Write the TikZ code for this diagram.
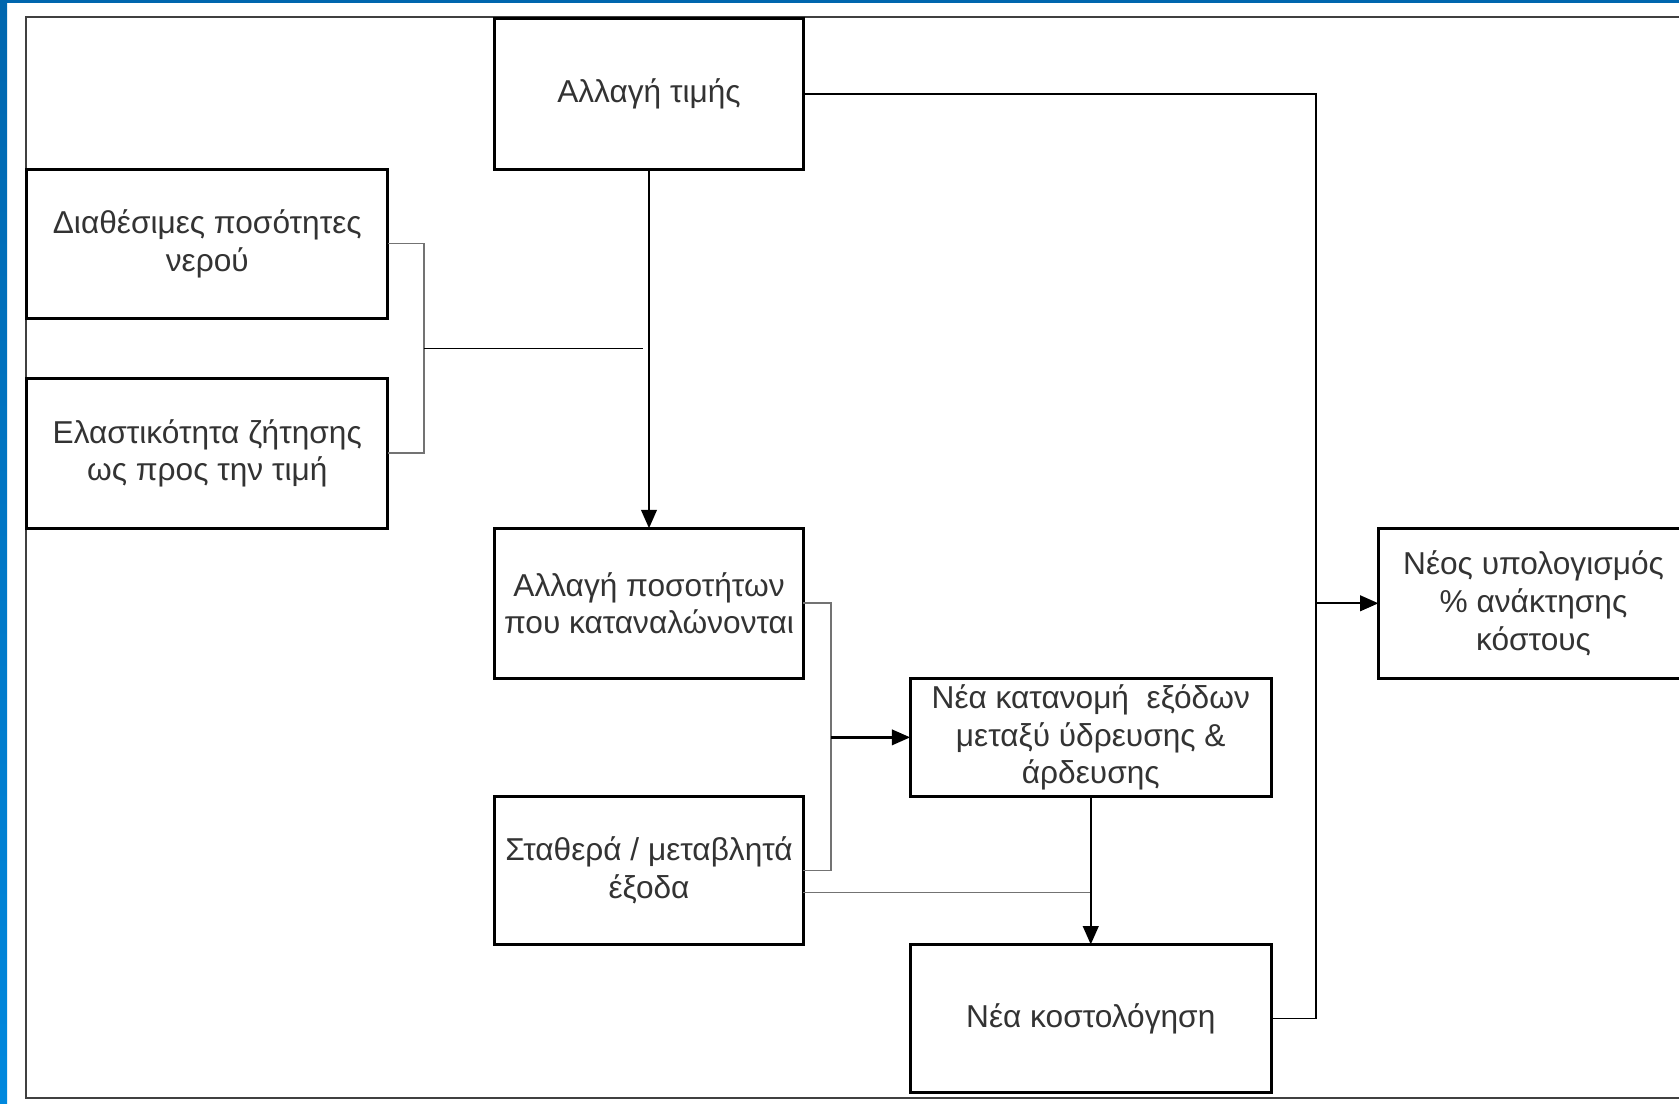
\documentclass[tikz,border=0pt]{standalone}
\usepackage{fontspec}
\setmainfont{Liberation Sans}
\usetikzlibrary{positioning,calc,arrows.meta}

\definecolor{edgeblue}{HTML}{0066AE}
\definecolor{edgeblue2}{HTML}{0088DE}

\tikzset{
   box/.style={draw, line width=0.85pt, align=center, inner sep=0pt, outer sep=0pt,
      font=\fontsize{9}{10.7}\selectfont, text=black!80},
   link/.style={line width=0.45pt},
   bracket/.style={line width=0.45pt, draw=black!55},
   arr/.style={line width=0.65pt, -{Triangle[length=5.2pt,width=4.4pt]}}
}

\begin{document}
\begin{tikzpicture}[x=0.01cm, y=-0.01cm]
   \useasboundingbox (0,0) rectangle (1679,1104);
   \clip (0,0) rectangle (1679,1104);

   % frame
   \fill[edgeblue] (0,0) rectangle (1679,3);
   \shade[top color=edgeblue, bottom color=edgeblue2] (0,0) rectangle (7,1104);
   \draw[line width=0.5pt, draw=black!75] (26,17) rectangle (1700,1098);

   % boxes
   \node[box, minimum width=3.08cm, minimum height=1.5cm] (b1) at (649,94)
      {Αλλαγή τιμής};
   \node[box, minimum width=3.61cm, minimum height=1.49cm,
      below left=0cm and 1.07cm of b1] (b2) {Διαθέσιμες ποσότητες\\νερού};
   \node[box, minimum width=3.61cm, minimum height=1.5cm,
      below=0.6cm of b2] (b3) {Ελαστικότητα ζήτησης\\ως προς την τιμή};
   \node[box, minimum width=3.08cm, minimum height=1.5cm,
      below=3.59cm of b1] (b4) {Αλλαγή ποσοτήτων\\που καταναλώνονται};
   \node[box, minimum width=3.08cm, minimum height=1.48cm,
      below=1.18cm of b4] (b5) {Σταθερά / μεταβλητά\\έξοδα};
   \node[box, minimum width=3.61cm, minimum height=1.18cm,
      below right=0cm and 1.07cm of b4] (b6)
      {Νέα κατανομή \ εξόδων\\μεταξύ ύδρευσης \&\\άρδευσης};
   \node[box, minimum width=3.61cm, minimum height=1.48cm,
      below=1.48cm of b6] (b7) {Νέα κοστολόγηση};
   \node[box, minimum width=3.1cm, minimum height=1.5cm,
      above right=0cm and 1.07cm of b6] (b8)
      {Νέος υπολογισμός\\\% ανάκτησης\\κόστους};

   % joints
   \coordinate (j1) at ($(b2.east)!0.5!(b3.east)+(36,0)$);
   \coordinate (j2) at ($(b1.east)+(513,0)$);
   \coordinate (j3) at ($(b4.east)!0.5!(b5.east)+(28,0)$);
   \coordinate (j4) at ($(b5.east)+(0,22)$);

   % connectors
   \draw[arr] (b1) -- (b4);
   \draw[bracket] (b2.east) -- ++(36,0) |- (b3.east);
   \draw[link] (j1) -- ($(j1 -| b1.south)+(-6,0)$);
   \draw[link] (b1.east) -| (j2) |- (b7.east);
   \draw[arr] (b8.west -| j2) -- (b8.west);
   \draw[bracket] (b4.east) -- ++(28,0) |- (b5.east);
   \draw[arr] (b6.west -| j3) -- (b6.west);
   \draw[bracket] (j4) -- (j4 -| b6.south);
   \draw[arr] (b6.south) -- (b7.north);
\end{tikzpicture}
\end{document}
